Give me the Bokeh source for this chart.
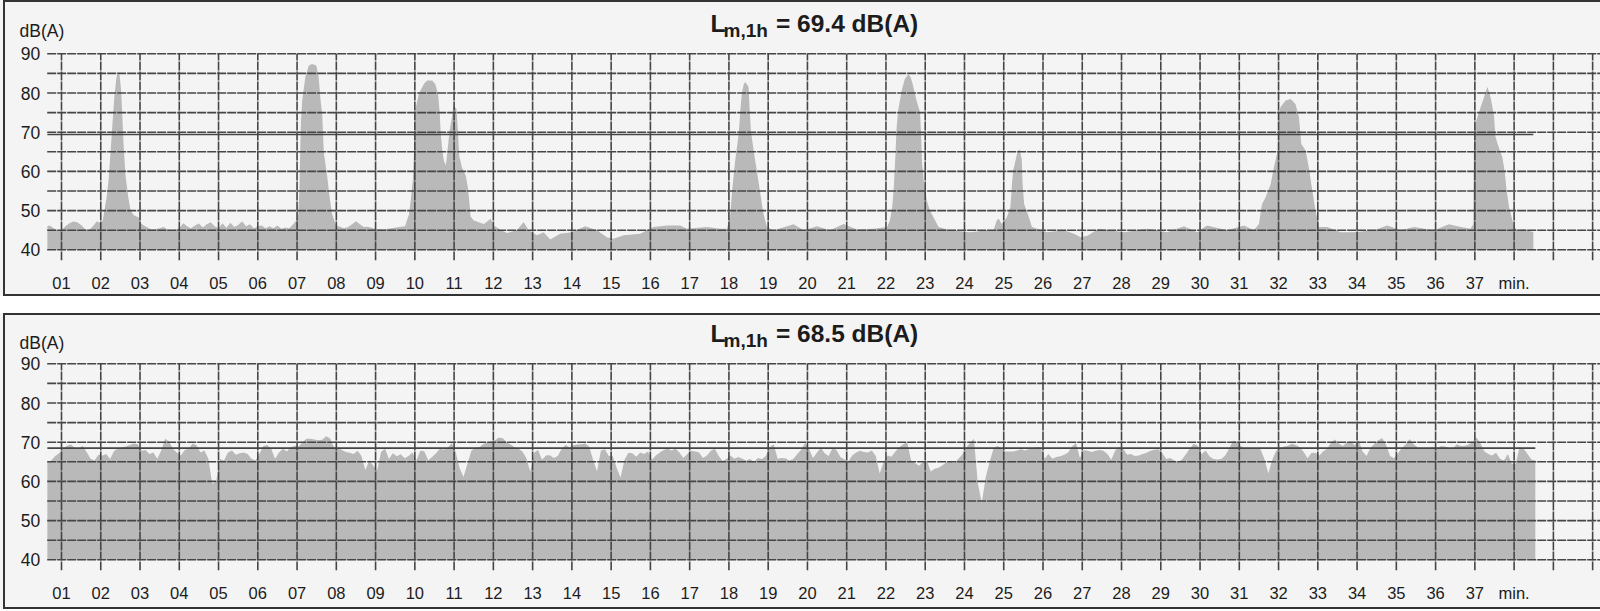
import numpy as np
from bokeh.plotting import figure
from bokeh.models import FixedTicker
from bokeh.layouts import column
from bokeh.core.properties import value
from bokeh.embed import file_html
from bokeh.resources import INLINE

# ---------------- data ----------------
# Panel 1: single passing events over a quiet background (minutes, dB(A))
top_minutes = [
    0.64, 0.70, 0.80, 0.90, 1.00, 1.10, 1.20, 1.30, 1.40, 1.50, 1.60, 1.70, 1.80, 1.90, 2.00,
    2.05, 2.10, 2.15, 2.20, 2.25, 2.30, 2.35, 2.40, 2.44, 2.48, 2.52, 2.55, 2.58, 2.63, 2.70,
    2.76, 2.84, 2.96, 3.02, 3.10, 3.20, 3.30, 3.40, 3.50, 3.60, 3.70, 3.80, 3.90, 4.00,
    4.10, 4.20, 4.30, 4.40, 4.50, 4.60, 4.70, 4.80, 4.90, 5.00, 5.10, 5.20, 5.30, 5.40,
    5.50, 5.60, 5.70, 5.80, 5.90, 6.00, 6.10, 6.20, 6.30, 6.40, 6.50, 6.60, 6.70, 6.80,
    6.90, 6.98, 7.03, 7.06, 7.08, 7.10, 7.13, 7.21, 7.30, 7.38, 7.49, 7.55, 7.60, 7.64,
    7.68, 7.77, 7.83, 7.89, 7.98, 8.05, 8.20, 8.30, 8.40, 8.50, 8.60, 8.70, 8.80, 8.90,
    9.00, 9.20, 9.40, 9.60, 9.75, 9.85, 9.90, 9.95, 10.00, 10.02, 10.10, 10.23, 10.31,
    10.44, 10.52, 10.59, 10.63, 10.66, 10.70, 10.74, 10.79, 10.83, 10.88, 10.93, 10.99,
    11.06, 11.10, 11.13, 11.20, 11.30, 11.35, 11.39, 11.42, 11.50, 11.76, 11.93, 12.01,
    12.20, 12.35, 12.60, 12.77, 12.90, 13.11, 13.28, 13.45, 13.70, 14.00, 14.34, 14.64,
    14.89, 15.06, 15.32, 15.74, 16.08, 16.42, 16.76, 16.93, 17.44, 17.78, 17.95,
    18.03, 18.08, 18.16, 18.25, 18.29, 18.33, 18.38, 18.42, 18.50, 18.53, 18.56, 18.63,
    18.71, 18.80, 18.88, 18.97, 19.14, 19.65, 19.90, 20.24, 20.58, 20.92, 21.26, 21.69,
    22.03, 22.10, 22.16, 22.20, 22.24, 22.27, 22.31, 22.40, 22.48, 22.57, 22.63, 22.68,
    22.78, 22.87, 22.90, 22.92, 22.97, 23.04, 23.12, 23.21, 23.34, 23.64, 24.15, 24.57,
    24.74, 24.82, 24.87, 24.95, 25.08, 25.17, 25.21, 25.24, 25.30, 25.34, 25.40, 25.46,
    25.48, 25.52, 25.61, 25.72, 26.11, 26.53, 26.79, 26.96, 27.13, 27.42, 28.06, 28.66,
    29.16, 29.59, 29.93, 30.18, 30.69, 31.12, 31.37, 31.50, 31.54, 31.58, 31.67, 31.80,
    31.88, 31.98, 32.01, 32.05, 32.18, 32.31, 32.43, 32.52, 32.55, 32.58, 32.69, 32.77,
    32.86, 32.94, 33.03, 33.24, 33.58, 33.92, 34.43, 34.77, 35.11, 35.45, 35.96, 36.34,
    36.64, 36.89, 36.96, 36.97, 36.98, 37.02, 37.07, 37.15, 37.22, 37.28, 37.32, 37.37,
    37.41, 37.49, 37.52, 37.58, 37.70, 37.76, 37.80, 37.87, 38.00, 38.10, 38.25, 38.40,
    38.49,
]
top_levels = [
    46.0, 46.2, 45.5, 45.0, 45.0, 46.0, 46.8, 47.2, 47.0, 46.3, 45.3, 45.0, 46.0, 47.3, 46.8,
    47.5, 50.5, 53.5, 58.0, 65.0, 72.5, 79.5, 84.0, 85.3, 84.5, 80.5, 74.0, 67.0, 59.0, 53.5,
    50.0, 48.8, 48.3, 46.8, 46.2, 45.6, 45.2, 45.3, 45.5, 45.8, 45.2, 45.0, 45.1, 45.5,
    46.8, 46.0, 45.5, 46.2, 46.7, 45.7, 46.5, 47.0, 46.0, 45.5, 46.8, 45.6, 46.9, 45.8,
    46.3, 47.3, 46.0, 46.5, 45.5, 46.0, 46.2, 45.5, 46.0, 45.5, 46.2, 45.4, 45.7, 45.5,
    46.5, 47.5, 49.0, 55.0, 65.0, 73.0, 78.0, 84.0, 87.0, 87.4, 87.0, 84.0, 78.0, 74.7,
    65.0, 58.5, 53.4, 49.2, 46.6, 46.0, 45.5, 45.8, 46.5, 47.3, 46.5, 45.8, 45.9, 45.6,
    45.3, 45.2, 45.5, 45.8, 46.0, 49.0, 53.0, 58.0, 70.0, 76.0, 79.8, 82.3, 83.2,
    83.2, 82.3, 79.8, 75.5, 69.6, 65.3, 62.8, 61.5, 65.0, 70.0, 73.0, 76.8,
    76.0, 70.0, 64.0, 61.0, 58.8, 56.0, 52.0, 48.5, 47.5, 46.6, 47.9, 46.2,
    45.0, 44.3, 45.0, 47.1, 45.0, 43.7, 44.5, 42.6, 44.1, 44.5, 46.0, 45.0,
    43.2, 42.8, 43.7, 44.1, 45.8, 46.2, 46.2, 45.4, 45.8, 45.4, 45.4,
    48.3, 55.0, 62.8, 69.6, 75.5, 80.0, 82.3, 82.8, 81.5, 75.5, 70.4, 65.3,
    60.2, 54.3, 49.2, 45.8, 45.0, 46.5, 45.0, 46.0, 45.0, 46.6, 45.2, 45.4,
    45.8, 47.5, 51.0, 56.0, 64.0, 71.0, 75.5, 80.6, 83.6, 84.8, 84.0, 82.3,
    78.0, 75.0, 68.0, 62.0, 57.0, 52.6, 50.0, 48.3, 45.8, 45.0, 44.5, 45.0,
    45.0, 47.5, 48.0, 46.6, 48.3, 50.9, 56.8, 60.2, 62.8, 64.5, 65.8, 63.0,
    56.8, 51.7, 49.2, 45.8, 44.5, 45.0, 44.1, 43.2, 43.6, 45.4, 44.5, 45.4,
    44.5, 46.0, 44.5, 46.2, 45.0, 46.2, 45.0, 46.6, 49.2, 51.7, 53.4, 56.8,
    61.0, 65.3, 74.7, 76.4, 78.1, 78.5, 77.2, 73.8, 70.4, 67.0, 65.3, 61.0,
    55.1, 50.0, 45.8, 45.8, 44.5, 44.5, 45.0, 46.2, 45.0, 45.8, 45.0, 46.5,
    45.8, 45.4, 46.5, 60.0, 70.0, 72.5, 74.0, 76.5, 78.5, 80.5, 81.5, 80.0,
    78.5, 74.0, 69.0, 67.0, 63.6, 60.0, 56.0, 50.9, 45.8, 45.0, 45.3, 44.8,
    44.5,
]
top_lm = 69.4

# Panel 2: continuous traffic, sampled every 0.1 min
bottom_first_minute = 0.64
bottom_step = 0.1
bottom_levels = [
    65.0, 65.3, 66.5, 67.2, 68.3,
    69.1, 69.4, 68.5, 68.3, 69.1, 67.5, 65.8, 65.3, 66.8, 66.6,
    67.0, 65.7, 67.8, 68.3, 68.7, 68.9, 69.3, 69.7, 69.5, 67.8,
    68.0, 67.0, 67.4, 65.8, 67.9, 70.9, 70.2, 68.3, 67.3, 66.6,
    68.0, 68.3, 69.7, 69.2, 67.4, 67.9, 65.8, 59.4, 60.0, 65.7,
    65.3, 67.4, 67.9, 66.8, 67.2, 67.4, 67.0, 65.8, 65.3, 67.0,
    69.0, 69.3, 68.3, 65.8, 67.4, 68.3, 67.6, 68.7, 69.1, 68.9,
    70.0, 70.9, 70.9, 70.7, 70.5, 70.6, 71.5, 71.0, 68.7, 68.5,
    68.0, 67.5, 67.3, 67.0, 67.8, 66.5, 62.9, 65.3, 64.0, 62.8,
    67.5, 68.4, 65.7, 67.2, 66.4, 66.9, 65.9, 66.5, 67.4, 65.3,
    67.8, 67.7, 65.4, 66.2, 67.2, 68.3, 68.1, 68.6, 69.8, 67.5,
    63.4, 61.1, 64.5, 67.8, 68.6, 68.7, 69.5, 69.9, 70.2, 70.5,
    71.2, 71.0, 70.0, 69.4, 68.7, 68.3, 67.6, 66.0, 62.5, 67.4,
    68.0, 65.5, 66.6, 66.7, 66.0, 66.5, 68.3, 69.3, 68.7, 69.2,
    69.4, 69.5, 69.7, 68.9, 65.5, 62.5, 67.9, 68.2, 66.5, 66.5,
    63.5, 61.0, 65.5, 67.3, 67.2, 66.3, 67.4, 67.0, 67.6, 65.5,
    66.6, 67.4, 68.0, 68.3, 67.9, 68.3, 67.4, 66.0, 67.0, 67.8,
    67.6, 67.4, 66.0, 66.6, 67.8, 68.3, 66.5, 65.2, 65.7, 66.6,
    65.8, 66.2, 65.8, 65.3, 65.7, 65.0, 66.0, 65.7, 66.5, 68.7,
    69.5, 65.8, 66.0, 65.9, 65.3, 65.7, 67.0, 68.1, 69.8, 68.3,
    66.0, 67.3, 68.6, 67.2, 66.5, 68.5, 68.0, 66.2, 65.6, 65.0,
    66.6, 67.4, 67.8, 67.5, 67.4, 67.9, 66.5, 62.0, 64.9, 66.6,
    66.3, 67.6, 68.7, 69.5, 70.0, 65.3, 64.7, 64.0, 64.9, 65.3,
    62.5, 63.2, 63.5, 64.1, 64.9, 65.0, 64.7, 65.7, 66.8, 68.5,
    69.8, 70.9, 59.5, 54.5, 61.0, 65.0, 68.3, 69.1, 68.3, 67.6,
    67.6, 67.6, 67.9, 68.2, 67.9, 68.2, 68.6, 68.7, 68.7, 65.8,
    67.0, 65.8, 66.2, 66.4, 66.8, 67.4, 68.9, 69.8, 66.0, 68.0,
    67.8, 67.5, 67.8, 68.0, 67.8, 67.0, 65.5, 67.9, 68.8, 68.4,
    66.8, 67.0, 66.5, 66.6, 67.0, 67.3, 67.8, 68.1, 68.2, 67.2,
    65.7, 66.0, 65.4, 64.9, 65.6, 66.9, 68.4, 69.6, 69.1, 66.9,
    67.9, 66.4, 65.7, 65.6, 65.7, 66.6, 68.3, 70.4, 70.2, 69.0,
    68.4, 68.3, 68.3, 68.5, 68.2, 65.7, 62.0, 65.5, 67.8, 68.4,
    68.9, 69.1, 69.6, 69.3, 68.7, 67.5, 65.9, 67.3, 67.3, 66.6,
    67.7, 68.3, 69.9, 70.7, 69.6, 69.0, 70.0, 70.2, 69.2, 70.5,
    67.6, 66.5, 68.5, 69.6, 70.5, 71.0, 69.3, 66.5, 65.9, 67.2,
    68.5, 69.5, 70.8, 69.5, 68.7, 68.4, 68.3, 68.5, 68.7, 68.3,
    69.0, 68.9, 68.6, 68.3, 69.5, 69.0, 69.0, 69.4, 70.0, 71.2,
    69.8, 67.7, 67.0, 66.6, 67.3, 65.8, 65.3, 67.0, 64.5, 64.5,
    68.8, 68.4, 67.0, 65.6, 65.3,
]
bottom_lm = 68.5
bottom_minutes = [round(bottom_first_minute + i * bottom_step, 2) for i in range(len(bottom_levels))]

floor_db = 40
top_db = 90
x_tick_values = list(range(1, 39))
x_tick_labels = ["%02d" % m for m in range(1, 38)] + ["min."]
y_tick_values = [40, 50, 60, 70, 80, 90]
grid_minutes = list(range(1, 41))
grid_levels = list(range(40, 91, 5))
unit_text = "dB(A)"

# ---------------- styling ----------------
PAPER = "#f4f4f4"
FILL = "#b9b9b9"
GRID = "#454545"
INK = "#1c1c1c"
FONT = "Liberation Sans"
PX_PER_MIN = 39.26
PX_PER_DB = 3.92
FRAME_LEFT_PX = 5                        # frame starts just inside the panel box
X_START = 1 - (61 - FRAME_LEFT_PX) / PX_PER_MIN
X_END = X_START + (1600 - FRAME_LEFT_PX) / PX_PER_MIN
GRID_X0 = 1 - (61 - 46.7) / PX_PER_MIN    # left end of the chart grid
BOX = ("inset 3px 0 0 0 %s, inset 5px 0 0 0 #333, inset 0 2px 0 0 #333, "
       "inset 0 -2px 0 0 #333" % PAPER)


def mx(px):
    """page-pixel x -> minutes (for text placement)"""
    return X_START + (px - FRAME_LEFT_PX) / PX_PER_MIN


def make_panel(xs, ys, lm, y90_from_top, height, unit_center_from_top):
    frame_top = 3
    y_end = top_db + (y90_from_top - frame_top) / PX_PER_DB
    y_start = floor_db - 10.7 / PX_PER_DB
    frame_h = int(round((y_end - y_start) * PX_PER_DB))

    def my(px_from_top):
        return top_db + (y90_from_top - px_from_top) / PX_PER_DB

    p = figure(width=1600, height=height,
               x_range=(X_START, X_END), y_range=(y_start, y_end),
               output_backend="svg", toolbar_location=None,
               min_border_left=FRAME_LEFT_PX, min_border_right=0,
               min_border_top=frame_top,
               min_border_bottom=height - frame_top - frame_h)
    p.background_fill_color = PAPER
    p.border_fill_color = None
    p.outline_line_color = None
    p.styles = {"background-color": PAPER, "box-shadow": BOX}
    p.xgrid.visible = False
    p.ygrid.visible = False

    p.varea(x=xs, y1=floor_db, y2=ys, fill_color=FILL, fill_alpha=1.0)
    n_v = len(grid_minutes)
    p.segment(x0=grid_minutes, y0=[y_start] * n_v, x1=grid_minutes, y1=[top_db] * n_v,
              line_color=GRID, line_width=1.6, line_dash="9 1")
    n_h = len(grid_levels)
    p.segment(x0=[GRID_X0] * n_h, y0=grid_levels, x1=[X_END] * n_h, y1=grid_levels,
              line_color=GRID, line_width=1.6, line_dash="9 1")
    p.line(x=[xs[0], xs[-1]], y=[lm, lm], line_color=GRID, line_width=1.6)

    xa = p.xaxis[0]
    xa.ticker = FixedTicker(ticks=x_tick_values)
    xa.major_label_overrides = dict(zip(x_tick_values, x_tick_labels))
    xa.major_label_text_font_size = "16.5px"
    xa.major_label_standoff = 13
    ya = p.yaxis[0]
    ya.ticker = FixedTicker(ticks=y_tick_values)
    ya.fixed_location = GRID_X0
    ya.major_label_text_font_size = "17.5px"
    ya.major_label_standoff = 7
    for a in (xa, ya):
        a.axis_line_color = None
        a.major_tick_line_color = None
        a.minor_tick_line_color = None
        a.major_tick_out = 0
        a.major_tick_in = 0
        a.major_label_text_font = FONT
        a.major_label_text_color = INK

    # unit label at the top of the y axis
    p.text(x=[mx(19)], y=[my(unit_center_from_top)], text=[unit_text],
           text_font=value(FONT), text_font_size=value("17.5px"),
           text_color=INK, text_baseline="middle", text_align="left")

    # title  L_{m,1h} = xx.x dB(A)
    p.text(x=[mx(710)], y=[my(y90_from_top - 30.5)], text=["L"],
           text_font=value(FONT), text_font_size=value("24.5px"), text_font_style="bold",
           text_color=INK, text_baseline="middle", text_align="left")
    p.text(x=[mx(723)], y=[my(y90_from_top - 23)], text=["m,1h"],
           text_font=value(FONT), text_font_size=value("19px"), text_font_style="bold",
           text_color=INK, text_baseline="middle", text_align="left")
    p.text(x=[mx(775.5)], y=[my(y90_from_top - 30.5)],
           text=["= %.1f dB(A)" % lm],
           text_font=value(FONT), text_font_size=value("24.5px"), text_font_style="bold",
           text_color=INK, text_baseline="middle", text_align="left")
    return p


p1 = make_panel(top_minutes, top_levels, top_lm, 53.3, 296, 30.0)
p2 = make_panel(bottom_minutes, bottom_levels, bottom_lm, 50.3, 296, 29.7)
layout = column(p1, p2, spacing=17)

open("out.html", "w").write(file_html(layout, INLINE))
